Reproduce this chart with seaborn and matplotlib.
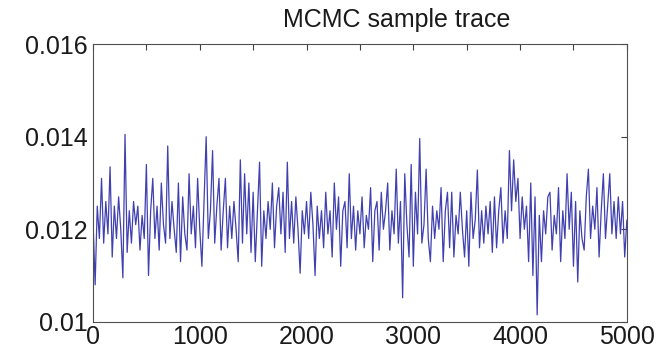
import numpy as np
import matplotlib
matplotlib.use("Agg")
import matplotlib.pyplot as plt
import seaborn as sns

# MCMC trace values, one every 20 iterations
iterations = np.arange(0, 5001, 20)
trace = [
    0.0122, 0.0108, 0.0125, 0.0118, 0.0131,
    0.0117, 0.0126, 0.0119, 0.01335, 0.0114,
    0.0125, 0.0118, 0.0127, 0.0120, 0.01095,
    0.01405, 0.0115, 0.0124, 0.0117, 0.0126,
    0.0121, 0.0125, 0.01155, 0.0123, 0.0118,
    0.0134, 0.0110, 0.0124, 0.0131, 0.0118,
    0.0125, 0.01155, 0.0130, 0.0121, 0.0117,
    0.0138, 0.0118, 0.0126, 0.0120, 0.0115,
    0.0130, 0.0113, 0.0127, 0.0119, 0.01155,
    0.0132, 0.0119, 0.0125, 0.0116, 0.0131,
    0.0120, 0.0112, 0.0126, 0.0140, 0.0118,
    0.0124, 0.0137, 0.0117, 0.0125, 0.0131,
    0.01155, 0.0124, 0.0131, 0.0116, 0.0125,
    0.0118, 0.0126, 0.0120, 0.0113, 0.0135,
    0.0117, 0.0132, 0.0119, 0.0130, 0.0115,
    0.0128, 0.0113, 0.0124, 0.01345, 0.0112,
    0.0124, 0.0118, 0.0126, 0.0120, 0.0130,
    0.0116, 0.0125, 0.0129, 0.0119, 0.0128,
    0.0115, 0.01345, 0.0118, 0.0126, 0.0117,
    0.0127, 0.0120, 0.01105, 0.0124, 0.0119,
    0.0126, 0.0118, 0.0128, 0.0121, 0.0110,
    0.0125, 0.0118, 0.0124, 0.0116, 0.0128,
    0.0119, 0.0124, 0.0114, 0.0130, 0.0120,
    0.0127, 0.0112, 0.0124, 0.0126, 0.0116,
    0.0132, 0.0118, 0.0125, 0.01155, 0.0124,
    0.0119, 0.0127, 0.0116, 0.0123, 0.0120,
    0.0129, 0.0113, 0.0124, 0.0126, 0.01155,
    0.0128, 0.0120, 0.0124, 0.0130, 0.01155,
    0.0124, 0.0119, 0.0133, 0.0117, 0.0126,
    0.01052, 0.0132, 0.0121, 0.0114, 0.0134,
    0.0112, 0.0128, 0.0119, 0.01396, 0.0117,
    0.0121, 0.0133, 0.0118, 0.0113, 0.0125,
    0.0118, 0.0124, 0.0120, 0.0129, 0.0113,
    0.0124, 0.0128, 0.0116, 0.0128, 0.0114,
    0.0123, 0.0119, 0.0128, 0.0120, 0.0114,
    0.0124, 0.0112, 0.0128, 0.0118, 0.0122,
    0.01328, 0.0116, 0.0124, 0.0117, 0.0125,
    0.0119, 0.0126, 0.0115, 0.0127, 0.0116,
    0.0124, 0.0129, 0.0117, 0.0124, 0.0118,
    0.0137, 0.0124, 0.0135, 0.0126, 0.0131,
    0.0118, 0.0127, 0.0120, 0.0125, 0.0113,
    0.0130, 0.0110, 0.0127, 0.01015, 0.0123,
    0.0113, 0.0124, 0.0119, 0.0127, 0.0128,
    0.01155, 0.0123, 0.0119, 0.0129, 0.0113,
    0.0124, 0.0118, 0.0132, 0.0120, 0.0128,
    0.0112, 0.0126, 0.01086, 0.0124, 0.0118,
    0.01155, 0.0127, 0.0133, 0.0118, 0.0125,
    0.0120, 0.0129, 0.0114, 0.0124, 0.0132,
    0.0118, 0.0125, 0.0132, 0.0119, 0.0126,
    0.0118, 0.0127, 0.0119, 0.0126, 0.0114,
    0.0122,
]
xticks = [0, 1000, 2000, 3000, 4000, 5000]
yticks = [0.010, 0.012, 0.014, 0.016]
ytick_labels = ["0.01", "0.012", "0.014", "0.016"]

sns.set_style("white")
plt.rcParams["font.family"] = ["Liberation Sans", "DejaVu Sans"]
plt.rcParams["text.color"] = "#1a1a1a"
plt.rcParams["xtick.labelcolor"] = "#1a1a1a"
plt.rcParams["ytick.labelcolor"] = "#1a1a1a"

fig = plt.figure(figsize=(6.69, 3.56), dpi=100)
ax = fig.add_axes([0.139, 0.096, 0.798, 0.780])

sns.lineplot(x=iterations, y=trace, ax=ax, color="#4040b0", linewidth=0.9)

ax.set_xlim(0, 5000)
ax.set_ylim(0.010, 0.016)
ax.set_xticks(np.arange(0, 5001, 500))
ax.set_xticklabels([str(t) if t in xticks else "" for t in range(0, 5001, 500)])
ax.set_yticks(yticks)
ax.set_yticklabels(ytick_labels)
ax.tick_params(direction="in", length=4, width=0.8, color="#404040",
               labelsize=18, top=True, right=True, pad=2)
ax.tick_params(axis="y", pad=4)
for s in ax.spines.values():
    s.set_color("#505050")
    s.set_linewidth(0.8)

fig.text(0.593, 0.944, "MCMC sample trace", ha="center", va="center", fontsize=18)

fig.savefig("out.png", dpi=100)
